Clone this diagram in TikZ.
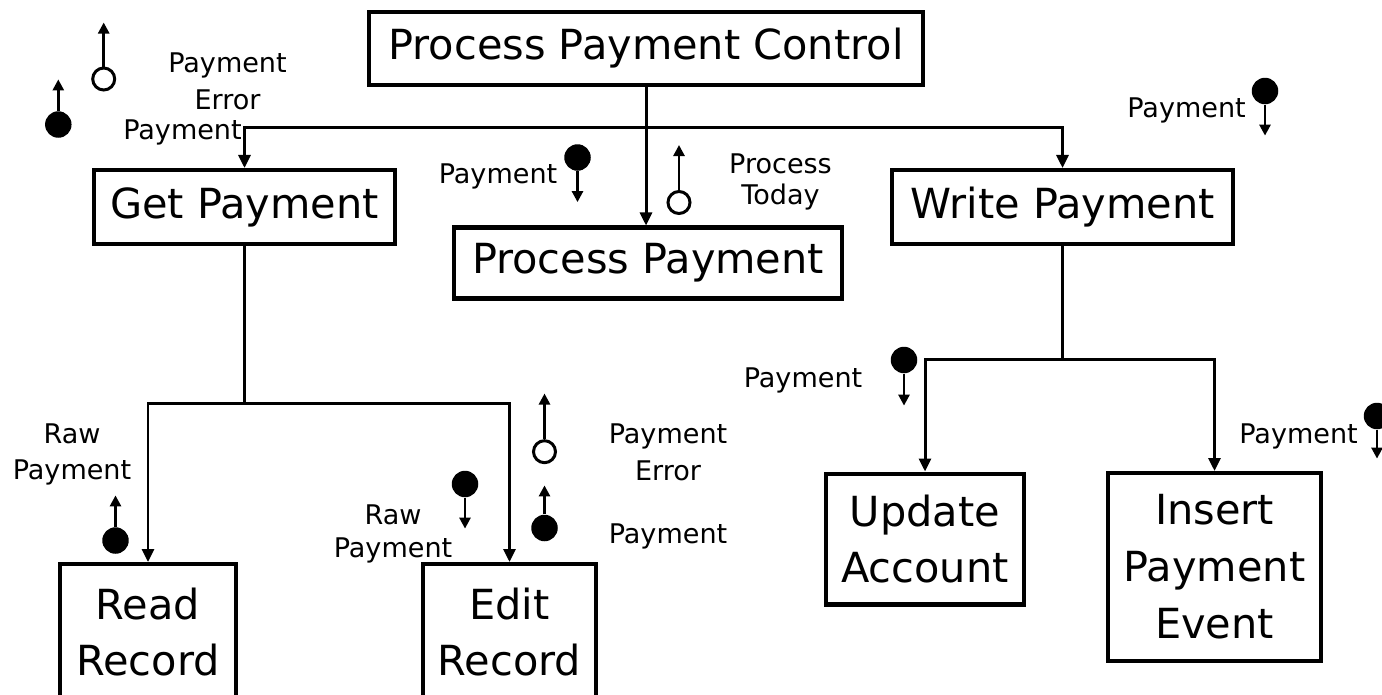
\documentclass[tikz,border=0pt]{standalone}
\usepackage{fontspec}
\setmainfont{DejaVu Sans}
\usetikzlibrary{arrows.meta}
\newcommand{\bigText}{\fontsize{23.6}{32.4}\selectfont}
\newcommand{\smallText}{\fontsize{15.4}{21}\selectfont}
\newcommand{\couple}[5]{%
  \node[#3] (#1) at (#2) {};
  \draw[coupleStyle] (#1.#4) -- ++(0,#5);
}

\begin{document}
\begin{tikzpicture}[x=0.02cm,y=-0.02cm,%
  boxStyle/.style={draw,line width=2.3pt,align=center,inner sep=0pt,font=\bigText},%
  lineStyle/.style={line width=1.7pt},%
  flowStyle/.style={line width=1.7pt,-{Triangle[length=2.6mm,width=2.4mm]}},%
  coupleStyle/.style={line width=1.5pt,-{Triangle[length=2.2mm,width=2.2mm]}},%
  dataStyle/.style={circle,fill=black,inner sep=0pt,minimum size=0.53cm},%
  controlStyle/.style={circle,draw,line width=1.7pt,fill=white,inner sep=0pt,minimum size=0.44cm},%
  labelStyle/.style={font=\smallText,align=center,inner sep=0pt}%
]
%
\useasboundingbox (0,0) rectangle (1382,694);
%
% The modules.
\node[boxStyle,minimum width=11.08cm,minimum height=1.46cm] (ppc) at (646,48.5) {Process Payment Control};
\node[boxStyle,minimum width=6.02cm,minimum height=1.48cm] (getPay) at (244.5,207) {Get Payment};
\node[boxStyle,minimum width=7.76cm,minimum height=1.42cm] (procPay) at (648,263) {Process Payment};
\node[boxStyle,minimum width=6.82cm,minimum height=1.48cm] (writePay) at (1062.5,207) {Write Payment};
\node[boxStyle,minimum width=3.52cm,minimum height=2.72cm] (readRec) at (148,632) {Read\\Record};
\node[boxStyle,minimum width=3.46cm,minimum height=2.72cm] (editRec) at (509.5,632) {Edit\\Record};
\node[boxStyle,minimum width=3.96cm,minimum height=2.62cm] (updAcc) at (925,539) {Update\\Account};
\node[boxStyle,minimum width=4.26cm,minimum height=3.76cm] (insPay) at (1214.5,567) {Insert\\Payment\\Event};
%
% Calls from the top module.
\coordinate (busTop) at (646,127.7);
\draw[flowStyle] (ppc.south) -- (ppc.south |- procPay.north);
\draw[flowStyle] (busTop) -| (getPay.north);
\draw[flowStyle] (busTop) -| (writePay.north);
% Calls from Get Payment.
\coordinate (busGet) at (244.5,403);
\draw[lineStyle] (getPay.south) -- (busGet);
\draw[flowStyle] (busGet) -| (readRec.north);
\draw[flowStyle] (busGet) -| (editRec.north);
% Calls from Write Payment.
\coordinate (busWrite) at (1062.5,359.3);
\draw[lineStyle] (writePay.south) -- (busWrite);
\draw[flowStyle] (busWrite) -| (updAcc.north);
\draw[flowStyle] (busWrite) -| (insPay.north);
%
% The couples.
\couple{errGet}{103.7,79}{controlStyle}{north}{-44}
\couple{payGet}{58.3,124.5}{dataStyle}{north}{-31.5}
\couple{payProc}{577.5,157.5}{dataStyle}{south}{31}
\couple{todayProc}{679,202.5}{controlStyle}{north}{-45}
\couple{payWrite}{1265,91}{dataStyle}{south}{31}
\couple{payUpd}{904,360}{dataStyle}{south}{32}
\couple{payIns}{1377,416}{dataStyle}{south}{29}
\couple{rawRead}{115.5,540.5}{dataStyle}{north}{-31.5}
\couple{rawEdit}{465,484}{dataStyle}{south}{31}
\couple{errEdit}{544.5,451.7}{controlStyle}{north}{-45.7}
\couple{payEdit}{544.5,528}{dataStyle}{north}{-29}
%
% Their labels.
\node[labelStyle] (lblErrGet) at (227.5,81) {Payment\\Error};
\node[labelStyle,anchor=base] (lblPayGet) at (182.5,139) {Payment};
\node[labelStyle,anchor=base] (lblPayProc) at (498,183) {Payment};
\node[labelStyle] (lblTodayProc) at (780.5,182) {Process\\[-3pt]Today};
\node[labelStyle,anchor=base] (lblPayWrite) at (1186.5,117) {Payment};
\node[labelStyle,anchor=base] (lblPayUpd) at (803,387) {Payment};
\node[labelStyle,anchor=base] (lblPayIns) at (1298.5,443) {Payment};
\node[labelStyle] (lblRawRead) at (72,454.4) {Raw\\Payment};
\node[labelStyle] (lblRawEdit) at (393,534.4) {Raw\\[-2.2pt]Payment};
\node[labelStyle] (lblErrEdit) at (668,452) {Payment\\Error};
\node[labelStyle,anchor=base] (lblPayEdit) at (668,543) {Payment};
\end{tikzpicture}
\end{document}
